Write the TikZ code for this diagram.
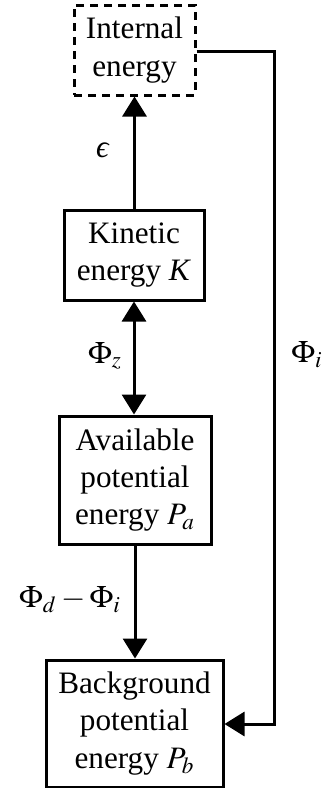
\documentclass[tikz,border=0pt]{standalone}
\usepackage{mathptmx}
\usepackage{fontspec}
\setmainfont{Liberation Serif}
\usetikzlibrary{arrows.meta}
\begin{document}
\begin{tikzpicture}[x=0.5pt,y=-0.5pt,
  every node/.style={font=\fontsize{15.6}{18.6}\selectfont},
  ebox/.style={draw,line width=1.5pt,align=center,inner sep=0pt},
  flow/.style={line width=1.5pt,-{Triangle[length=10pt,width=12pt]}},
  lab/.style={inner sep=0pt}]
\useasboundingbox (0,0) rectangle (325,788);
\node[ebox,dashed,dash pattern=on 4pt off 3pt,minimum width=60.5pt,minimum height=45pt] (ie) at (134.5,50) {Internal\\energy};
\node[ebox,minimum width=70pt,minimum height=45pt] (ke) at (134,255) {Kinetic\\energy \textit{K}};
\node[ebox,minimum width=76pt,minimum height=64pt] (ape) at (135,480) {Available\\potential\\energy $P_a$};
\node[ebox,minimum width=88.5pt,minimum height=63.5pt] (bpe) at (134.5,723.5) {Background\\potential\\energy $P_b$};
\coordinate (c1) at (274,51);
\coordinate (c2) at (274,724);
\draw[flow] (ke.north -| ie.south) -- (ie.south);
\draw[line width=1.5pt,{Triangle[length=10pt,width=12pt]}-{Triangle[length=10pt,width=12pt]}] (ke.south) -- (ke.south |- ape.north);
\draw[flow] (ape.south) -- (ape.south |- bpe.north);
\draw[flow] (ie.east |- c1) -- (c1) -- (c2) -- (bpe.east |- c2);
\node[lab] (eps) at (103,150) {\textit{ϵ}};
\node[lab] (phz) at (105,356) {$\Phi_z$};
\node[lab] (phdi) at (70,600) {$\Phi_d-\Phi_i$};
\node[lab] (phi) at (307,355) {$\Phi_i$};
\end{tikzpicture}
\end{document}
